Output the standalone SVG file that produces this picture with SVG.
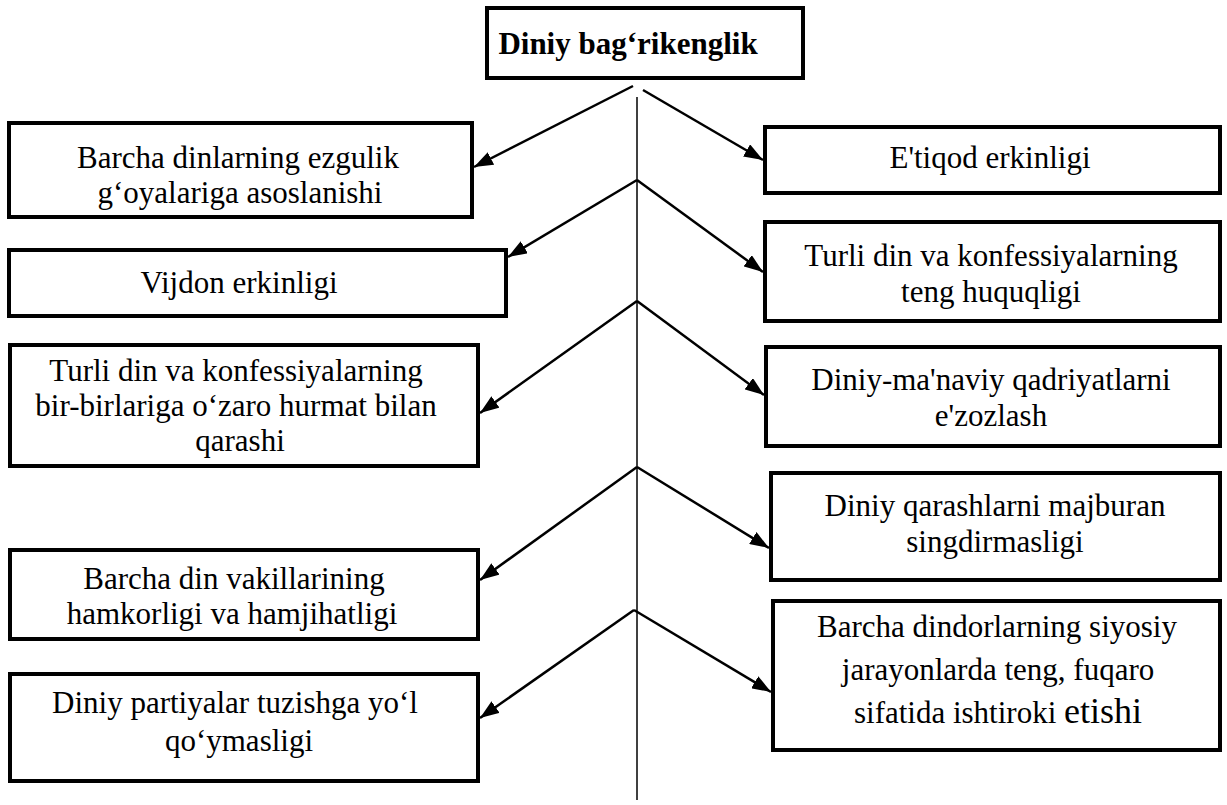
<svg xmlns="http://www.w3.org/2000/svg" width="1227" height="805" viewBox="0 0 1227 805">
<style>
.box{fill:#fff;stroke:#000;stroke-width:4}
.t{font-family:"Liberation Serif","Times New Roman",serif;font-size:31px;fill:#000;text-anchor:middle}
.tb{font-weight:bold}
.c{stroke:#000;stroke-width:2.5;fill:none}
.v{stroke:#000;stroke-width:1.5;fill:none}
</style>
<defs>
<marker id="ah" markerUnits="userSpaceOnUse" markerWidth="20" markerHeight="14" refX="19" refY="7" orient="auto">
<path d="M0,0 L19,7 L0,14 z" fill="#000"/>
</marker>
</defs>
<rect width="1227" height="805" fill="#fff"/>
<g id="title">
<rect class="box" x="487" y="8" width="316" height="70"/>
<text class="t tb" x="628" y="54">Diniy bag‘rikenglik</text>
</g>
<g id="l1">
<rect class="box" x="9" y="123" width="463" height="94"/>
<text class="t" x="238" y="168">Barcha dinlarning ezgulik</text>
<text class="t" x="240" y="203">g‘oyalariga asoslanishi</text>
</g>
<g id="l2">
<rect class="box" x="9" y="250" width="497" height="66"/>
<text class="t" x="239" y="293">Vijdon erkinligi</text>
</g>
<g id="l3">
<rect class="box" x="10" y="345" width="468" height="121"/>
<text class="t" x="236" y="381">Turli din va konfessiyalarning</text>
<text class="t" x="236" y="416">bir-birlariga o‘zaro hurmat bilan</text>
<text class="t" x="240" y="451">qarashi</text>
</g>
<g id="l4">
<rect class="box" x="10" y="550" width="468" height="89"/>
<text class="t" x="234" y="589">Barcha din vakillarining</text>
<text class="t" x="232" y="624">hamkorligi va hamjihatligi</text>
</g>
<g id="l5">
<rect class="box" x="10" y="674" width="468" height="107"/>
<text class="t" x="235" y="713">Diniy partiyalar tuzishga yo‘l</text>
<text class="t" x="239" y="751">qo‘ymasligi</text>
</g>
<g id="r1">
<rect class="box" x="765" y="127" width="455" height="66"/>
<text class="t" x="990" y="168">E'tiqod erkinligi</text>
</g>
<g id="r2">
<rect class="box" x="765" y="222" width="455" height="99"/>
<text class="t" x="991" y="266">Turli din va konfessiyalarning</text>
<text class="t" x="991" y="302">teng huquqligi</text>
</g>
<g id="r3">
<rect class="box" x="766" y="347" width="454" height="99"/>
<text class="t" x="991" y="390">Diniy-ma'naviy qadriyatlarni</text>
<text class="t" x="991" y="426">e'zozlash</text>
</g>
<g id="r4">
<rect class="box" x="771" y="473" width="449" height="107"/>
<text class="t" x="995" y="516">Diniy qarashlarni majburan</text>
<text class="t" x="995" y="552">singdirmasligi</text>
</g>
<g id="r5">
<rect class="box" x="773" y="601" width="447" height="149"/>
<text class="t" x="997" y="637">Barcha dindorlarning siyosiy</text>
<text class="t" x="998" y="680">jarayonlarda teng, fuqaro</text>
<text class="t" x="998" y="723">sifatida ishtiroki <tspan font-size="36">etishi</tspan></text>
</g>
<g id="connectors">
<line class="v" x1="637" y1="97" x2="637" y2="800"/>
<line class="c" x1="633" y1="86" x2="474" y2="167" marker-end="url(#ah)"/>
<line class="c" x1="643" y1="90" x2="763" y2="160" marker-end="url(#ah)"/>
<line class="c" x1="637" y1="180" x2="508" y2="257" marker-end="url(#ah)"/>
<line class="c" x1="637" y1="180" x2="763" y2="272" marker-end="url(#ah)"/>
<line class="c" x1="637" y1="301" x2="480" y2="413" marker-end="url(#ah)"/>
<line class="c" x1="637" y1="301" x2="764" y2="395" marker-end="url(#ah)"/>
<line class="c" x1="637" y1="467" x2="480" y2="580" marker-end="url(#ah)"/>
<line class="c" x1="637" y1="467" x2="769" y2="548" marker-end="url(#ah)"/>
<line class="c" x1="634" y1="610" x2="480" y2="718" marker-end="url(#ah)"/>
<line class="c" x1="634" y1="610" x2="771" y2="692" marker-end="url(#ah)"/>
</g>
</svg>
